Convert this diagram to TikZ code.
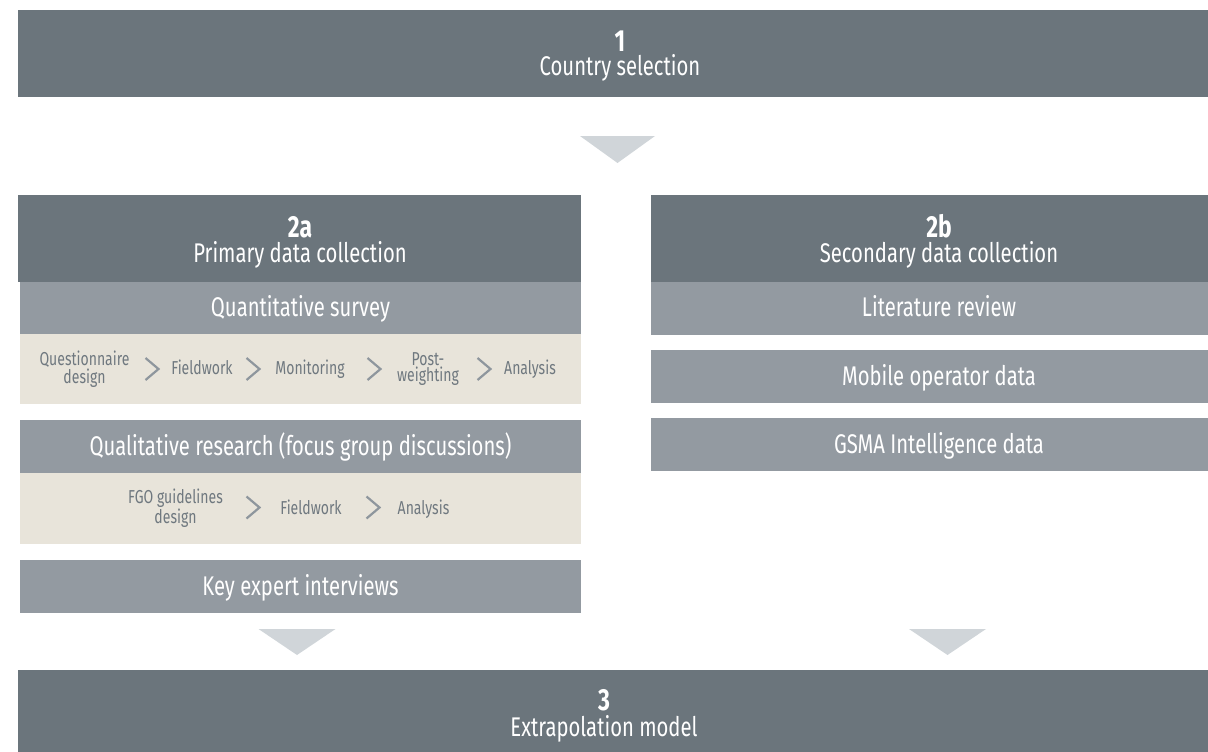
\documentclass[tikz,border=0pt]{standalone}
\usepackage{fontspec}
\setmainfont{Fira Sans}[FakeStretch=0.75]
\usetikzlibrary{positioning}

\definecolor{slate}{HTML}{6B757C}
\definecolor{steel}{HTML}{939AA1}
\definecolor{sand}{HTML}{E8E4DA}
\definecolor{mist}{HTML}{D0D5D9}
\definecolor{steptext}{HTML}{6F787F}
\definecolor{chev}{HTML}{8E969D}

\tikzset{
  panel/.style={rectangle, draw=none, fill=#1, inner sep=0pt, outer sep=0pt, anchor=north west},
  digit/.style={anchor=base, inner sep=0pt, text=white, font=\fontsize{30.5}{30}\selectfont\bfseries},
  heading/.style={anchor=base, inner sep=0pt, text=white, font=\fontsize{27}{28}\selectfont},
  steplabel/.style={anchor=base, inner sep=0pt, text=steptext, align=center, font=\fontsize{18.7}{16.5}\selectfont},
  steppair/.style={anchor=center, inner sep=0pt, text=steptext, align=center, font=\fontsize{18.7}{16.5}\selectfont},
  chevron/.style={draw=chev, line width=2.2pt, line cap=butt, line join=miter},
  pointer/.style={fill=mist, draw=none}
}

\begin{document}
\begin{tikzpicture}[x=1pt, y=-1pt]
  \useasboundingbox (0,0) rectangle (1208,752);

  % ---- stage 1 ----
  \node[panel=slate, minimum width=1190pt, minimum height=87pt] (s1) at (18,10) {};
  \node[digit] (s1num) at (620,52) {1};
  \node[heading] (s1txt) at (620,76) {Country selection};

  % pointer below stage 1
  \coordinate (p1) at (617.5,136);
  \fill[pointer] ([xshift=-37.5pt]p1) -- ([xshift=37.5pt]p1) -- ([yshift=-27pt]p1) -- cycle;

  % ---- stage 2a: primary data ----
  \node[panel=slate, minimum width=563pt, minimum height=87pt] (s2a) at (18,195) {};
  \node[digit] (s2anum) at (300,237) {2a};
  \node[heading] (s2atxt) at (300,262) {Primary data collection};

  \node[panel=steel, minimum width=561pt, minimum height=52pt] (quant) at (20,282) {};
  \node[heading] (quanttxt) at (300.5,316) {Quantitative survey};
  \node[panel=sand, minimum width=561pt, minimum height=70pt] (quantsteps) at (20,334) {};

  \node[steppair] (qa) at (84.5,369) {Questionnaire\\design};
  \node[steplabel] (qb) at (202,374) {Fieldwork};
  \node[steplabel] (qc) at (310,374) {Monitoring};
  \node[steppair] (qd) at (428,369) {Post-\\weighting};
  \node[steplabel] (qe) at (530,374) {Analysis};

  \coordinate (qk1) at (158.5,369);
  \coordinate (qk2) at (259.5,369);
  \coordinate (qk3) at (380.5,369);
  \coordinate (qk4) at (490.5,369);
  \foreach \k in {qk1,qk2,qk3,qk4}
    \draw[chevron] ([shift={(-13,-11)}]\k) -- (\k) -- ([shift={(-13,11)}]\k);

  \node[panel=steel, minimum width=561pt, minimum height=53pt] (qual) at (20,420) {};
  \node[heading] (qualtxt) at (300.5,455) {Qualitative research (focus group discussions)};
  \node[panel=sand, minimum width=561pt, minimum height=71pt] (qualsteps) at (20,473) {};

  \node[steppair] (fa) at (175.5,508) {FGO guidelines\\design};
  \node[steplabel] (fb) at (311,514) {Fieldwork};
  \node[steplabel] (fc) at (423.5,514) {Analysis};

  \coordinate (fk1) at (259.5,507.5);
  \coordinate (fk2) at (379.5,507.5);
  \foreach \k in {fk1,fk2}
    \draw[chevron] ([shift={(-13,-11)}]\k) -- (\k) -- ([shift={(-13,11)}]\k);

  \node[panel=steel, minimum width=561pt, minimum height=53pt] (kei) at (20,560) {};
  \node[heading] (keitxt) at (300.5,595) {Key expert interviews};

  % ---- stage 2b: secondary data ----
  \node[panel=slate, minimum width=557pt, minimum height=87pt] (s2b) at (651,195) {};
  \node[digit] (s2bnum) at (939,237) {2b};
  \node[heading] (s2btxt) at (939,262) {Secondary data collection};

  \node[panel=steel, minimum width=557pt, minimum height=53pt] (lit) at (651,282) {};
  \node[heading] (littxt) at (939,316.5) {Literature review};
  \node[panel=steel, minimum width=557pt, minimum height=53pt] (mno) at (651,350) {};
  \node[heading] (mnotxt) at (939,385) {Mobile operator data};
  \node[panel=steel, minimum width=557pt, minimum height=53pt] (gsma) at (651,418) {};
  \node[heading] (gsmatxt) at (939,453) {GSMA Intelligence data};

  % pointers into stage 3
  \coordinate (p2) at (297,629);
  \coordinate (p3) at (947.5,629);
  \foreach \p in {p2,p3}
    \fill[pointer] ([xshift=-38.5pt]\p) -- ([xshift=38.5pt]\p) -- ([yshift=-26pt]\p) -- cycle;

  % ---- stage 3 ----
  \node[panel=slate, minimum width=1190pt, minimum height=82pt] (s3) at (18,670) {};
  \node[digit] (s3num) at (604,710) {3};
  \node[heading] (s3txt) at (604,736) {Extrapolation model};
\end{tikzpicture}
\end{document}
